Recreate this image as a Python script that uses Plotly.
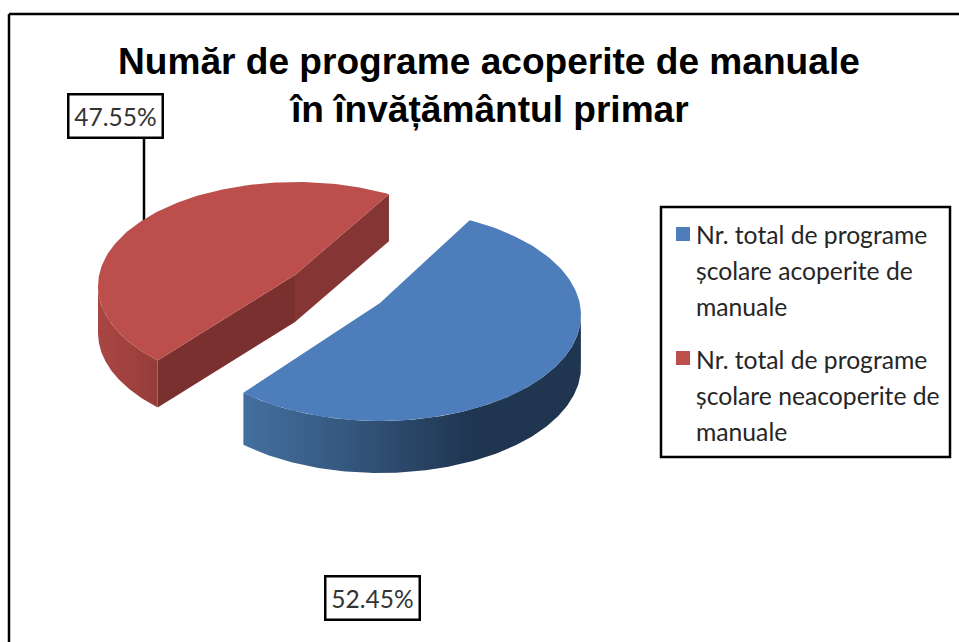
import numpy as np
import plotly.graph_objects as go

# ---- data ----
TITLE_LINES = ["Număr de programe acoperite de manuale", "în învățământul primar"]
SERIES_NAMES = ["Nr. total de programe școlare acoperite de manuale",
                "Nr. total de programe școlare neacoperite de manuale"]
LEGEND_LINES = [["Nr. total de programe", "școlare acoperite de", "manuale"],
                ["Nr. total de programe", "școlare neacoperite de", "manuale"]]
PERCENTS = [52.45, 47.55]

# ---- drawing constants (view of the 3-D pie, in picture pixels) ----
W, H = 959, 642
START_DEG = 63.5
SKEW_DEG = 7.5
BLUE = dict(cx=380, cy=315, rx=201, ry=106, ax=380, ay=303, depth=52)
RED = dict(cx=296, cy=286, rx=198, ry=104, ax=295, ay=275, depth=47)

blue_sweep = PERCENTS[0] * 3.6 + SKEW_DEG
red_sweep = PERCENTS[1] * 3.6 - SKEW_DEG
blue_from, blue_to = START_DEG, START_DEG - blue_sweep
red_from, red_to = START_DEG - 1.5, START_DEG - 1.5 + red_sweep


def arc(g, a0, a1, dz=0, n=160):
    t = np.radians(np.linspace(a0, a1, n))
    return g["cx"] + g["rx"] * np.cos(t), g["cy"] - g["ry"] * np.sin(t) + dz


def poly(xs, ys, color=None, name=None, gradient=None):
    kw = dict(fillcolor=color) if gradient is None else dict(
        fillgradient=dict(type="horizontal", colorscale=gradient))
    return go.Scatter(x=np.asarray(xs), y=np.asarray(ys), mode="lines", fill="toself",
                      line=dict(width=0), hoverinfo="skip", showlegend=False,
                      name=name or "", **kw)


def side_quad(g, a, color):
    x, y = arc(g, a, a, n=1)
    d = g["depth"]
    return poly([g["ax"], x[0], x[0], g["ax"], g["ax"]],
                [g["ay"], y[0], y[0] + d, g["ay"] + d, g["ay"]], color)


def rim(g, a0, a1, color=None, gradient=None):
    x0, y0 = arc(g, a0, a1)
    x1, y1 = arc(g, a1, a0, g["depth"])
    return poly(np.r_[x0, x1, x0[0]], np.r_[y0, y1, y0[0]], color, gradient=gradient)


def top(g, a0, a1, color, name):
    x, y = arc(g, a0, a1)
    return poly(np.r_[g["ax"], x, g["ax"]], np.r_[g["ay"], y, g["ay"]], color, name)


fig = go.Figure()
# red slice
fig.add_trace(side_quad(RED, red_from, "#843534"))
fig.add_trace(side_quad(RED, red_to, "#7a302e"))
fig.add_trace(rim(RED, 180, red_to, gradient=[[0, "#a94643"], [0.6, "#9f413d"], [1, "#953c39"]]))
fig.add_trace(top(RED, red_from, red_to, "#bc4f4c", SERIES_NAMES[1]))
# blue slice
fig.add_trace(rim(BLUE, blue_to, 2, gradient=[[0, "#44709f"], [0.3, "#35587f"],
                                               [0.68, "#1f3550"], [1, "#1f3550"]]))
fig.add_trace(top(BLUE, blue_from, blue_to, "#4d7ebb", SERIES_NAMES[0]))

black = dict(color="#000000", width=2.5)
shapes = [
    dict(type="line", x0=9, x1=9, y0=14, y1=H, line=black),
    dict(type="line", x0=9, x1=W, y0=14, y1=14, line=black),
    dict(type="line", x0=144, x1=144, y0=137, y1=225, line=black, layer="below"),
    dict(type="rect", x0=661, x1=950, y0=207, y1=457, line=black),
    dict(type="rect", x0=676, x1=690, y0=227, y1=241, fillcolor="#4d7ebb", line_width=0),
    dict(type="rect", x0=676, x1=690, y0=351, y1=365, fillcolor="#bc4f4c", line_width=0),
]

annotations = []
for text, yy in zip(TITLE_LINES, [61, 109]):
    annotations.append(dict(x=488.5, y=yy, text=f"<b>{text}</b>", showarrow=False,
                            font=dict(family="Liberation Sans", size=37.1, color="#000000")))
for lines, y0 in zip(LEGEND_LINES, [234, 359]):
    for i, line in enumerate(lines):
        annotations.append(dict(x=694, y=y0 + i * 36, text=line, showarrow=False, xanchor="left",
                                font=dict(family="Lato", size=24.7, color="#262626")))
for pct, (bx, by) in zip(PERCENTS, [(372.5, 597.5), (115, 115.5)]):
    annotations.append(dict(x=bx, y=by, text=f"{pct:.2f}%", showarrow=False, width=92, height=41,
                            bgcolor="#ffffff", bordercolor="#000000", borderwidth=2.5, borderpad=0,
                            font=dict(family="Lato", size=24.5, color="#333333")))

fig.update_layout(
    width=W, height=H, margin=dict(l=0, r=0, t=0, b=0),
    paper_bgcolor="#ffffff", plot_bgcolor="#ffffff", showlegend=False,
    shapes=shapes, annotations=annotations,
    xaxis=dict(range=[0, W], visible=False, fixedrange=True),
    yaxis=dict(range=[H, 0], visible=False, fixedrange=True),
)
fig.write_html("out.html", config=dict(displayModeBar=False),
               post_script="document.body.style.margin='0';document.documentElement.style.overflow='hidden';")
